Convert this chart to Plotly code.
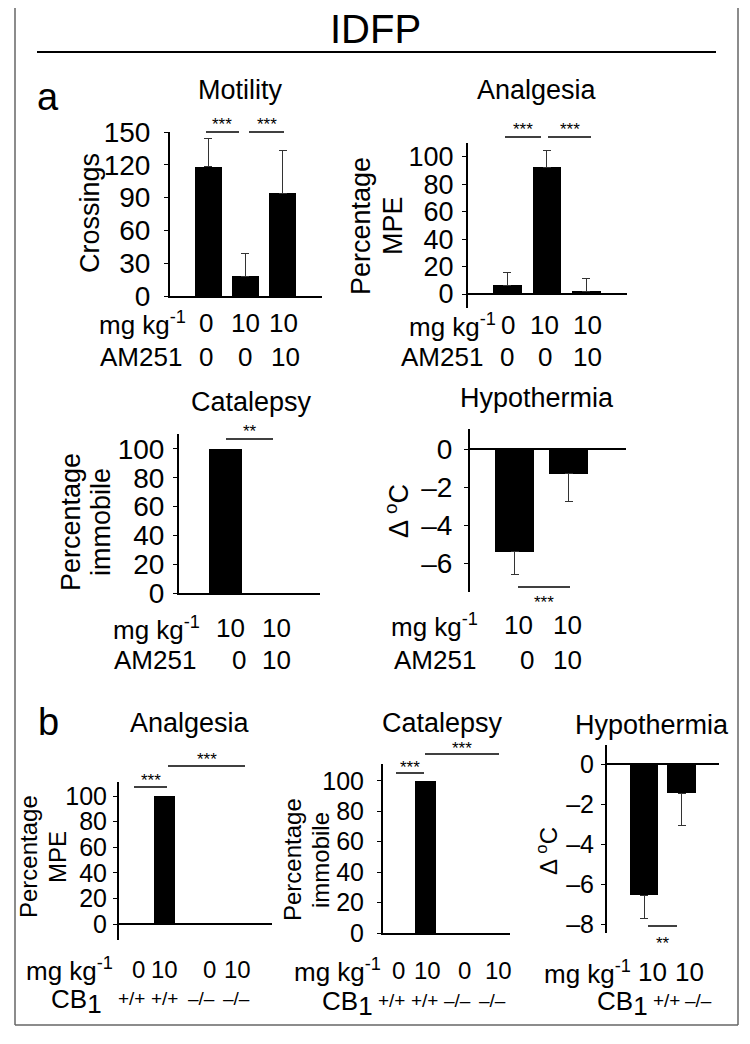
import plotly.graph_objects as go

W, H = 750, 1044
FONT = "Liberation Sans, Arial, sans-serif"
OFF = 8  # page body margin of the written html

# ---------------- data ----------------
# Panel a (IDFP +/- AM251)
motility_groups = ["Veh", "IDFP", "IDFP+AM251"]
motility_dose = ["0", "10", "10"]
motility_am251 = ["0", "0", "10"]
motility_mean = [118, 18, 94]
motility_sem = [26, 21, 39]
motility_ticks = [0, 30, 60, 90, 120, 150]

analgesia_a_groups = ["Veh", "IDFP", "IDFP+AM251"]
analgesia_a_dose = ["0", "10", "10"]
analgesia_a_am251 = ["0", "0", "10"]
analgesia_a_mean = [6.5, 92.5, 2.2]
analgesia_a_sem = [9, 12.5, 9]

pct_ticks = [0, 20, 40, 60, 80, 100]

catalepsy_a_groups = ["IDFP", "IDFP+AM251"]
catalepsy_a_dose = ["10", "10"]
catalepsy_a_am251 = ["0", "10"]
catalepsy_a_mean = [100, 0]

hypo_a_groups = ["IDFP", "IDFP+AM251"]
hypo_a_dose = ["10", "10"]
hypo_a_am251 = ["0", "10"]
hypo_a_mean = [-5.4, -1.3]
hypo_a_sem = [1.2, 1.45]
hypo_a_ticks = [0, -2, -4, -6]
hypo_a_ticktext = ["0", "–2", "–4", "–6"]

# Panel b (CB1 +/+ vs -/-)
cb_groups = ["Veh +/+", "IDFP +/+", "Veh -/-", "IDFP -/-"]
cb_dose = ["0", "10", "0", "10"]
cb_genotype = ["+/+", "+/+", "–/–", "–/–"]
analgesia_b_mean = [1, 100, 0, 0]
catalepsy_b_mean = [0, 100, 0, 0]

hypo_b_groups = ["IDFP +/+", "IDFP -/-"]
hypo_b_dose = ["10", "10"]
hypo_b_genotype = ["+/+", "–/–"]
hypo_b_mean = [-6.55, -1.45]
hypo_b_sem = [1.15, 1.6]
hypo_b_ticks = [0, -2, -4, -6, -8]
hypo_b_ticktext = ["0", "–2", "–4", "–6", "–8"]


# ---------------- helpers ----------------
def px(x):
    return (x - OFF) / W


def py(y):
    return 1 - (y - OFF) / H


fig = go.Figure()
annotations = []
shapes = []
layout_axes = {}


def add_panel(n, groups, mean, sem, xdom, ydom, xrange, yrange, width,
              tickvals, ticktext, tickfont, standoff, zero):
    err = None
    if sem is not None:
        if mean[0] >= 0:
            err = dict(type="data", symmetric=False, array=sem,
                       arrayminus=[0] * len(sem), color="#333", thickness=1, width=4)
        else:
            err = dict(type="data", symmetric=False, array=[0] * len(sem),
                       arrayminus=sem, color="#333", thickness=1, width=4)
    fig.add_trace(go.Bar(
        x=groups, y=mean, width=width,
        marker=dict(color="black", line=dict(width=0)),
        error_y=err, showlegend=False,
        xaxis="x%d" % n, yaxis="y%d" % n,
    ))
    layout_axes["xaxis%d" % n] = dict(
        domain=[px(xdom[0]), px(xdom[1])], range=xrange, type="category",
        anchor="y%d" % n, showticklabels=False, ticks="", showgrid=False,
        zeroline=False, showline=not zero, linecolor="black", linewidth=2,
        fixedrange=True, automargin=False,
    )
    layout_axes["yaxis%d" % n] = dict(
        domain=[py(ydom[1]), py(ydom[0])], range=yrange, anchor="x%d" % n,
        showline=True, linecolor="black", linewidth=2,
        ticks="outside", ticklen=4, tickwidth=1, tickcolor="black",
        tickvals=tickvals, ticktext=ticktext,
        tickfont=dict(size=tickfont, color="black", family=FONT),
        ticklabelstandoff=standoff,
        showgrid=False, zeroline=zero, zerolinecolor="black", zerolinewidth=2,
        fixedrange=True, automargin=False,
    )


def txt(x, y, s, size, xanchor="center", yanchor="middle", angle=0,
        color="black", pad=1):
    annotations.append(dict(
        x=px(x), y=py(y), xref="paper", yref="paper", text=s, showarrow=False,
        font=dict(size=size, color=color, family=FONT),
        xanchor=xanchor, yanchor=yanchor, textangle=angle, borderpad=pad,
    ))


def hline(x0, x1, y, color="black", width=1.5):
    shapes.append(dict(type="line", xref="paper", yref="paper",
                       x0=px(x0), x1=px(x1), y0=py(y), y1=py(y),
                       line=dict(color=color, width=width)))


def vline(x, y0, y1, color="#666", width=1.5):
    shapes.append(dict(type="line", xref="paper", yref="paper",
                       x0=px(x), x1=px(x), y0=py(y0), y1=py(y1),
                       line=dict(color=color, width=width)))


def sig(x0, x1, y, label, ystar):
    hline(x0, x1, y)
    txt((x0 + x1) / 2, ystar, label, 17)


pct_text = [str(v) for v in pct_ticks]
mot_text = [str(v) for v in motility_ticks]

# ---------------- panels ----------------
add_panel(1, motility_groups, motility_mean, motility_sem,
          (170, 322), (132, 296), [-1.02, 3.06], [0, 150], 0.725,
          motility_ticks, mot_text, 28, 8, False)
add_panel(2, analgesia_a_groups, analgesia_a_mean, analgesia_a_sem,
          (468, 627), (143, 308), [-1.0, 3.03], [-10.2, 110.2], 0.73,
          pct_ticks, pct_text, 27, 3, True)
add_panel(3, catalepsy_a_groups, catalepsy_a_mean, None,
          (179, 320), (434, 593), [-1.0, 2.03], [0, 110.4], 0.71,
          pct_ticks, pct_text, 28, 3, False)
add_panel(4, hypo_a_groups, hypo_a_mean, hypo_a_sem,
          (470, 626), (429, 592), [-0.83, 2.06], [-7.5, 1.05], 0.72,
          hypo_a_ticks, hypo_a_ticktext, 28, 6, True)
add_panel(5, cb_groups, analgesia_b_mean, None,
          (119, 272), (782, 940), [-0.52, 4.58], [-12.5, 111], 0.7,
          pct_ticks, pct_text, 25, 1, True)
add_panel(6, cb_groups, catalepsy_b_mean, None,
          (383, 510), (764, 933), [-0.43, 3.8], [0, 111], 0.7,
          pct_ticks, pct_text, 25, 8, False)
add_panel(7, hypo_b_groups, hypo_b_mean, hypo_b_sem,
          (607, 719), (745, 933), [-0.99, 2.0], [-8.45, 0.95], 0.75,
          hypo_b_ticks, hypo_b_ticktext, 25, 2, True)

# ---------------- text ----------------
txt(375, 29, "IDFP", 40, pad=0)
txt(48, 97, "a", 38)
txt(48, 722, "b", 38)

# titles
txt(240, 90, "Motility", 27)
txt(537, 90, "Analgesia", 27)
txt(252, 402, "Catalepsy", 27)
txt(537, 398, "Hypothermia", 27)
txt(190, 723, "Analgesia", 27)
txt(443, 723, "Catalepsy", 27)
txt(652, 725, "Hypothermia", 27)

# y titles
txt(90, 213, "Crossings", 27, angle=-90)
txt(361, 226, "Percentage", 27, angle=-90)
txt(393, 226, "MPE", 27, angle=-90)
txt(71, 522, "Percentage", 27, angle=-90)
txt(101, 522, "immobile", 27, angle=-90)
txt(397, 511, "Δ <sup>o</sup>C", 27, angle=-90)
txt(28, 857, "Percentage", 24, angle=-90)
txt(57, 857, "MPE", 24, angle=-90)
txt(292, 860, "Percentage", 24, angle=-90)
txt(320, 860, "immobile", 24, angle=-90)
txt(547, 851, "Δ <sup>o</sup>C", 24, angle=-90)

MG = "mg kg<sup>-1</sup>"
CB = 'CB<sub><span style="font-size:26px">1</span></sub>'
LBL = 26
NB = 24  # number labels in panel b
GS = 19  # genotype labels

# Motility rows
txt(188, 323, MG, LBL, xanchor="right")
txt(184, 357, "AM251", LBL, xanchor="right")
for xx, s in zip([206, 245, 283], motility_dose):
    txt(xx, 323, s, LBL)
for xx, s in zip([206, 245, 285], motility_am251):
    txt(xx, 357, s, LBL)

# Analgesia a rows
txt(498, 325, MG, LBL, xanchor="right")
txt(485, 357, "AM251", LBL, xanchor="right")
for xx, s in zip([508, 544, 587], analgesia_a_dose):
    txt(xx, 325, s, LBL)
for xx, s in zip([507, 545, 587], analgesia_a_am251):
    txt(xx, 357, s, LBL)

# Catalepsy a rows
txt(202, 628, MG, LBL, xanchor="right")
txt(198, 660, "AM251", LBL, xanchor="right")
for xx, s in zip([230, 276], catalepsy_a_dose):
    txt(xx, 628, s, LBL)
for xx, s in zip([239, 276], catalepsy_a_am251):
    txt(xx, 660, s, LBL)

# Hypothermia a rows
txt(480, 625, MG, LBL, xanchor="right")
txt(478, 660, "AM251", LBL, xanchor="right")
for xx, s in zip([518, 567], hypo_a_dose):
    txt(xx, 625, s, LBL)
for xx, s in zip([527, 567], hypo_a_am251):
    txt(xx, 660, s, LBL)

# Analgesia b rows
txt(115, 969, MG, LBL, xanchor="right")
txt(104, 1001, CB, LBL, xanchor="right")
for xx, s in zip([138, 164, 210, 237], cb_dose):
    txt(xx, 969, s, NB)
for xx, s in zip([131, 164, 201, 236], cb_genotype):
    txt(xx, 998, s, GS)

# Catalepsy b rows
txt(383, 970, MG, LBL, xanchor="right")
txt(375, 1003, CB, LBL, xanchor="right")
for xx, s in zip([391, 424, 457, 492], cb_genotype):
    txt(xx, 1000, s, GS)
for xx, s in zip([398, 427, 465, 498], cb_dose):
    txt(xx, 970, s, NB)

# Hypothermia b rows
txt(633, 972, MG, LBL, xanchor="right")
txt(650, 1003, CB, LBL, xanchor="right")
for xx, s in zip([652, 689], hypo_b_dose):
    txt(xx, 972, s, LBL)
for xx, s in zip([666, 698], hypo_b_genotype):
    txt(xx, 1000, s, GS)

# significance bars
sig(206, 239, 132, "***", 125)
sig(249, 284, 132, "***", 125)
sig(505, 541, 137, "***", 130)
sig(548, 591, 137, "***", 130)
sig(226, 273, 439, "**", 431)
sig(518, 570, 587, "***", 602)
sig(134, 167, 787, "***", 780)
sig(168, 245, 766, "***", 759)
sig(396, 424, 773, "***", 767)
sig(425, 499, 754, "***", 748)
sig(648, 677, 926, "**", 943)

# title rule and frame
hline(37, 716, 52, width=2)
vline(15, 0, 1025)
vline(738, 0, 1025)
hline(15, 738, 1025, color="#666", width=1.5)

fig.update_layout(
    template="none",
    width=W, height=H, autosize=False,
    margin=dict(l=0, r=0, t=0, b=0, pad=0),
    paper_bgcolor="white", plot_bgcolor="white",
    font=dict(family=FONT, color="black"),
    bargap=0, showlegend=False,
    annotations=annotations, shapes=shapes,
    **layout_axes,
)

fig.write_html("out.html")
